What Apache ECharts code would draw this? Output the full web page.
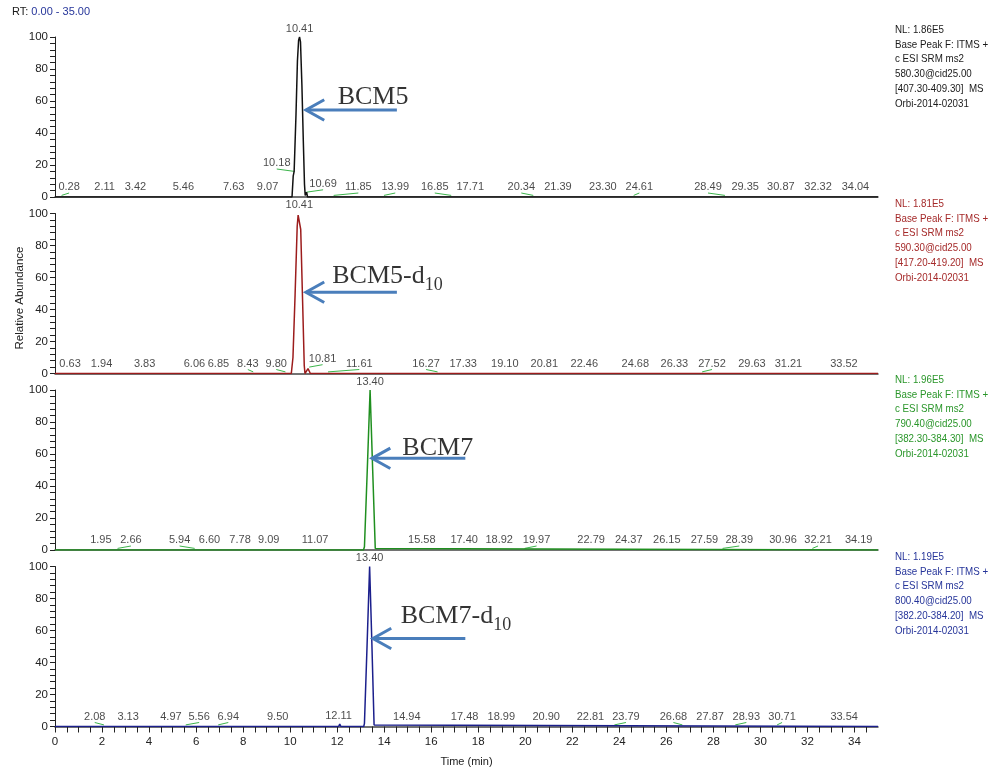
<!DOCTYPE html>
<html>
<head>
<meta charset="utf-8">
<title>BCM5 / BCM7 chromatograms</title>
<script src="https://cdn.jsdelivr.net/npm/echarts@6.0.0/dist/echarts.min.js"></script>
<style>
  html, body { margin: 0; padding: 0; background: #ffffff; }
  #chart { width: 991px; height: 772px; }
</style>
</head>
<body>
<div id="chart"></div>
<script>
// ---- data: [time (min), relative abundance] ----
var trace1 = [[0, 0], [10.08, 0], [10.13, 13], [10.17, 16], [10.19, 17], [10.25, 52], [10.31, 85], [10.36, 98],
  [10.40, 100], [10.44, 97], [10.50, 70], [10.56, 35], [10.61, 8], [10.64, 1], [10.67, 2], [10.70, 3], [10.74, 0], [35, 0]];
var trace2 = [[0, 0], [10.05, 0], [10.12, 10], [10.21, 49], [10.30, 92], [10.34, 99], [10.38, 100], [10.42, 99],
  [10.45, 90], [10.53, 45], [10.60, 5], [10.63, 0], [10.70, 0], [10.76, 3], [10.80, 4], [10.86, 0], [35, 0]];
var trace3 = [[0, 0], [13.12, 0], [13.16, 2], [13.28, 50], [13.40, 100], [13.51, 50], [13.62, 1], [13.65, 0], [35, 0]];
var trace4 = [[0, 0], [12.06, 0], [12.11, 1.5], [12.16, 0], [13.13, 0], [13.16, 2], [13.27, 50], [13.38, 100],
  [13.47, 55], [13.57, 1], [13.60, 0], [35, 0]];

// peak labels: [text, peak time, peak height, label centre time]
var peaks1 = [['0.28', 0.28, 1, 0.60], ['2.11', 2.11, 1, 2.11], ['3.42', 3.42, 1, 3.42], ['5.46', 5.46, 1, 5.46],
  ['7.63', 7.63, 1, 7.60], ['9.07', 9.07, 1, 9.04], ['10.18', 10.18, 16, 9.43], ['10.41', 10.40, 100, 10.40],
  ['10.69', 10.69, 3, 11.40], ['11.85', 11.85, 1, 12.90], ['13.99', 13.99, 1, 14.47], ['16.85', 16.85, 1, 16.15],
  ['17.71', 17.71, 1, 17.66], ['20.34', 20.34, 1, 19.83], ['21.39', 21.39, 1, 21.39], ['23.30', 23.30, 1, 23.30],
  ['24.61', 24.61, 1, 24.85], ['28.49', 28.49, 1, 27.77], ['29.35', 29.35, 1, 29.35], ['30.87', 30.87, 1, 30.87],
  ['32.32', 32.32, 1, 32.45], ['34.04', 34.04, 1, 34.04]];
var peaks2 = [['0.63', 0.63, 1, 0.64], ['1.94', 1.94, 1, 1.98], ['3.83', 3.83, 1, 3.81], ['6.06', 6.06, 1, 5.93],
  ['6.85', 6.85, 1, 6.95], ['8.43', 8.43, 1, 8.20], ['9.80', 9.80, 1, 9.41], ['10.41', 10.39, 100, 10.39],
  ['10.81', 10.81, 4, 11.38], ['11.61', 11.61, 1, 12.94], ['16.27', 16.27, 1, 15.78], ['17.33', 17.33, 1, 17.36],
  ['19.10', 19.10, 1, 19.13], ['20.81', 20.81, 1, 20.81], ['22.46', 22.46, 1, 22.51], ['24.68', 24.68, 1, 24.68],
  ['26.33', 26.33, 1, 26.34], ['27.52', 27.52, 1, 27.94], ['29.63', 29.63, 1, 29.64], ['31.21', 31.21, 1, 31.19],
  ['33.52', 33.52, 1, 33.55]];
var peaks3 = [['1.95', 1.95, 1, 1.95], ['2.66', 2.66, 1, 3.23], ['5.94', 5.94, 1, 5.30], ['6.60', 6.60, 1, 6.57],
  ['7.78', 7.78, 1, 7.87], ['9.09', 9.09, 1, 9.09], ['11.07', 11.07, 1, 11.06], ['13.40', 13.40, 100, 13.40],
  ['15.58', 15.58, 1, 15.60], ['17.40', 17.40, 1, 17.40], ['18.92', 18.92, 1, 18.89], ['19.97', 19.97, 1, 20.48],
  ['22.79', 22.79, 1, 22.80], ['24.37', 24.37, 1, 24.40], ['26.15', 26.15, 1, 26.02], ['27.59', 27.59, 1, 27.62],
  ['28.39', 28.39, 1, 29.10], ['30.96', 30.96, 1, 30.96], ['32.21', 32.21, 1, 32.45], ['34.19', 34.19, 1, 34.18]];
var peaks4 = [['2.08', 2.08, 1, 1.69], ['3.13', 3.13, 1, 3.11], ['4.97', 4.97, 1, 4.93], ['5.56', 5.56, 1, 6.13],
  ['6.94', 6.94, 1, 7.37], ['9.50', 9.50, 1, 9.47], ['12.11', 12.11, 1.5, 12.06], ['13.40', 13.38, 100, 13.38],
  ['14.94', 14.94, 1, 14.96], ['17.48', 17.48, 1, 17.42], ['18.99', 18.99, 1, 18.98], ['20.90', 20.90, 1, 20.89],
  ['22.81', 22.81, 1, 22.77], ['23.79', 23.79, 1, 24.28], ['26.68', 26.68, 1, 26.30], ['27.87', 27.87, 1, 27.86],
  ['28.93', 28.93, 1, 29.40], ['30.71', 30.71, 1, 30.92], ['33.54', 33.54, 1, 33.56]];

// compound call-outs: name, subscript, text anchor [time, abundance], arrow [tail time, tip time, abundance]
var compoundNames = ['BCM5', 'BCM5-d', 'BCM7', 'BCM7-d'];
var compoundSubs = ['', '10', '', '10'];
var compoundPos = [[12.0, 62.2], [11.77, 61], [14.75, 63.4], [14.68, 69]];
var arrowDefs = [[14.54, 10.67, 54.4], [14.54, 10.67, 50.8], [17.45, 13.48, 57.3], [17.45, 13.52, 55]];

// scan info on the right
var nlValues = ['1.86E5', '1.81E5', '1.96E5', '1.19E5'];
var precursors = ['580.30@cid25.00', '590.30@cid25.00', '790.40@cid25.00', '800.40@cid25.00'];
var ranges = ['[407.30-409.30]', '[417.20-419.20]', '[382.30-384.30]', '[382.20-384.20]'];

var traces = [trace1, trace2, trace3, trace4];
var peaks = [peaks1, peaks2, peaks3, peaks4];

// layout
var panelTops = [37, 213.5, 390, 566.5];
var panelH = 160;
var infoTops = [30, 204, 380, 557];
var lineColors = ['#111111', '#9c1c1c', '#1f8f1f', '#1b1f8c'];
var infoColors = ['#1a1a1a', '#a52a2a', '#2a962a', '#26359a'];
var arrowColor = '#4a7ebb';
var leaderColor = '#3cb44b';
var sans = '"Liberation Sans", Arial, sans-serif';
var serif = '"Liberation Serif", "Times New Roman", serif';

var headDx = 0.78, headDy = 6.4;

var tickVals = [], labelVals = [];
for (var t = 0; t <= 34.5; t += 0.5) tickVals.push(t);
for (var l = 0; l <= 34; l += 2) labelVals.push(l);

var grids = [], xAxes = [], yAxes = [], series = [], graphics = [];

for (var i = 0; i < 4; i++) {
  var last = i === 3;
  grids.push({ left: 55, right: 113, top: panelTops[i], height: panelH });

  xAxes.push({
    type: 'value', gridIndex: i, min: 0, max: 35,
    axisLine: { show: true, lineStyle: { color: '#444', width: 1.5 } },
    axisTick: last ? { show: true, inside: false, length: 6, customValues: tickVals, lineStyle: { color: '#222' } } : { show: false },
    axisLabel: last ? { show: true, customValues: labelVals, margin: 9, fontSize: 11.5, fontFamily: sans, color: '#222' } : { show: false },
    splitLine: { show: false },
    name: last ? 'Time (min)' : '',
    nameLocation: 'middle', nameGap: 30,
    nameTextStyle: { fontSize: 11, fontFamily: sans, color: '#222' }
  });

  yAxes.push({
    type: 'value', gridIndex: i, min: 0, max: 100, interval: 20,
    axisLine: { show: true, lineStyle: { color: '#222', width: 1 } },
    axisTick: { show: true, length: 5, lineStyle: { color: '#222' } },
    minorTick: { show: true, splitNumber: 5, length: 5, lineStyle: { color: '#222' } },
    axisLabel: { margin: 7, fontSize: 11.5, fontFamily: sans, color: '#222' },
    splitLine: { show: false }
  });

  // chromatogram trace
  series.push({
    type: 'line', xAxisIndex: i, yAxisIndex: i, data: traces[i],
    showSymbol: false, symbol: 'none', silent: true, z: 3,
    lineStyle: { color: lineColors[i], width: 1.5 }
  });

  // green leader lines for labels moved off their peak
  var leaders = [];
  peaks[i].forEach(function (p) {
    if (Math.abs(p[3] - p[1]) > 0.15) {
      leaders.push({ coords: [[p[1], p[2]], [p[3], p[2] + 1.5]] });
    }
  });
  series.push({
    type: 'lines', coordinateSystem: 'cartesian2d', xAxisIndex: i, yAxisIndex: i,
    data: leaders, symbol: 'none', silent: true, z: 2,
    lineStyle: { color: leaderColor, width: 1, opacity: 1 }
  });

  // peak time labels
  series.push({
    type: 'scatter', xAxisIndex: i, yAxisIndex: i, clip: false, silent: true, z: 4,
    symbolSize: 1, itemStyle: { color: 'rgba(0,0,0,0)' },
    data: peaks[i].map(function (p) { return [p[3], p[2] + 1.5, p[0]]; }),
    label: {
      show: true, position: 'top', distance: 0,
      formatter: function (d) { return d.value[2]; },
      fontSize: 11, fontFamily: sans, color: '#1a1a1a'
    }
  });

  // blue arrow
  var a = arrowDefs[i];
  series.push({
    type: 'lines', coordinateSystem: 'cartesian2d', xAxisIndex: i, yAxisIndex: i,
    polyline: true, symbol: 'none', silent: true, z: 5,
    data: [
      { coords: [[a[0], a[2]], [a[1], a[2]]] },
      { coords: [[a[1] + headDx, a[2] + headDy], [a[1], a[2]], [a[1] + headDx, a[2] - headDy]] }
    ],
    lineStyle: { color: arrowColor, width: 3, opacity: 1, join: 'miter' }
  });

  // compound name
  series.push({
    type: 'scatter', xAxisIndex: i, yAxisIndex: i, clip: false, silent: true, z: 5,
    symbolSize: 1, itemStyle: { color: 'rgba(0,0,0,0)' },
    data: [[compoundPos[i][0], compoundPos[i][1], compoundNames[i], compoundSubs[i]]],
    label: {
      show: true, position: 'right', distance: 0, align: 'left', verticalAlign: 'middle',
      formatter: function (d) {
        return '{m|' + d.value[2] + '}' + (d.value[3] ? '{s|' + d.value[3] + '}' : '');
      },
      rich: {
        m: { fontSize: 26, fontFamily: serif, color: '#000' },
        s: { fontSize: 18, fontFamily: serif, color: '#000', padding: [18, 0, 0, 0] }
      }
    }
  });

  // scan description on the right (condensed like the instrument font)
  graphics.push({
    type: 'text', left: 895, top: infoTops[i] - 7.5, silent: true,
    scaleX: 0.85,
    style: {
      text: ['NL: ' + nlValues[i], 'Base Peak F: ITMS +', 'c ESI SRM ms2', precursors[i],
        ranges[i] + '  MS', 'Orbi-2014-02031'].join('\n'),
      font: '11.5px ' + sans, fill: infoColors[i], lineHeight: 14.7
    }
  });
}

graphics.push({
  type: 'text', left: 12, top: 6, silent: true,
  style: {
    text: '{a|RT: }{b|0.00 - 35.00}',
    rich: {
      a: { fontSize: 11, fontFamily: sans, fill: '#1a1a1a' },
      b: { fontSize: 11, fontFamily: sans, fill: '#26359a' }
    }
  }
});
graphics.push({
  type: 'text', x: 20, y: 298, rotation: Math.PI / 2, silent: true,
  style: {
    text: 'Relative Abundance', font: '11.5px ' + sans, fill: '#1a1a1a',
    textAlign: 'center', textVerticalAlign: 'middle'
  }
});

var chart = echarts.init(document.getElementById('chart'));
chart.setOption({
  animation: false,
  backgroundColor: '#ffffff',
  grid: grids,
  xAxis: xAxes,
  yAxis: yAxes,
  series: series,
  graphic: graphics
});
</script>
</body>
</html>
